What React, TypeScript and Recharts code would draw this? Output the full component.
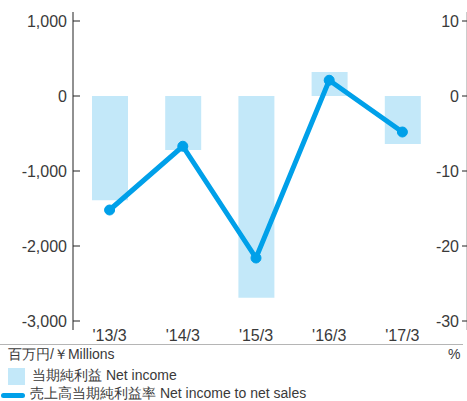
import React from 'react';
import { ComposedChart, Bar, Line, XAxis, YAxis } from 'recharts';

const years = ["'13/3", "'14/3", "'15/3", "'16/3", "'17/3"];
const netIncome = [-1390, -720, -2690, 320, -640];
const incomeRatio = [-15.2, -6.7, -21.6, 2.1, -4.8];
const leftTicks = [-3000, -2000, -1000, 0, 1000];
const rightTicks = [-30, -20, -10, 0, 10];

const data = years.map((year, i) => ({
  year,
  netIncome: netIncome[i],
  ratio: incomeRatio[i],
}));

const font = '"Liberation Sans", Arial, sans-serif';
const barColor = '#c3e8f9';
const lineColor = '#00a0e9';
const textColor = '#3a3a3a';

const LeftTick = (props: any) => {
  const { x, y, payload } = props;
  return (
    <g>
      <line x1={x + 6} x2={x + 13} y1={y} y2={y} stroke="#222" strokeWidth={1} />
      <text x={x} y={y} dy="0.36em" textAnchor="end" fill={textColor} fontSize={16} fontFamily={font}>
        {payload.value.toLocaleString('en-US')}
      </text>
    </g>
  );
};

export default function App() {
  return (
    <div style={{ position: 'absolute', left: 0, top: 0, width: 467, height: 401, fontFamily: font, color: textColor }}>
      <ComposedChart
        width={467}
        height={401}
        data={data}
        margin={{ top: 12, right: 0, bottom: 57, left: 0 }}
        barCategoryGap={0}
      >
        <XAxis
          dataKey="year"
          axisLine={false}
          tickLine={false}
          tickSize={0}
          tickMargin={0}
          height={14}
          padding={{ left: 0, right: 28 }}
          tick={{ fill: textColor, fontSize: 16, fontFamily: font }}
        />
        <YAxis
          yAxisId="left"
          width={73}
          domain={[-3120, 1120]}
          ticks={leftTicks}
          axisLine={{ stroke: '#222' }}
          tickLine={false}
          tickSize={0}
          tickMargin={6}
          tick={<LeftTick />}
          interval={0}
        />
        <YAxis
          yAxisId="right"
          orientation="right"
          mirror
          width={1}
          domain={[-31.2, 11.2]}
          ticks={rightTicks}
          axisLine={{ stroke: '#999' }}
          tickLine={{ stroke: '#222' }}
          tickSize={5}
          tickMargin={3}
          interval={0}
          tick={{ fill: textColor, fontSize: 16, fontFamily: font }}
        />
        <Bar yAxisId="left" dataKey="netIncome" fill={barColor} barSize={36} isAnimationActive={false} />
        <Line
          yAxisId="right"
          dataKey="ratio"
          stroke={lineColor}
          strokeWidth={5}
          dot={{ r: 5, fill: lineColor, stroke: lineColor, strokeWidth: 1 }}
          activeDot={false}
          isAnimationActive={false}
        />
      </ComposedChart>
      <div style={{ position: 'absolute', left: 0, top: 344, width: 463, height: 0, borderTop: '1.5px solid #b5b5b5' }} />
      <div style={{ position: 'absolute', left: 8, top: 346, fontSize: 14, whiteSpace: 'nowrap' }}>百万円/￥Millions</div>
      <div style={{ position: 'absolute', left: 448, top: 346, fontSize: 14 }}>%</div>
      <div style={{ position: 'absolute', left: 8, top: 368, width: 17, height: 17, background: barColor }} />
      <div style={{ position: 'absolute', left: 32, top: 367, fontSize: 14, whiteSpace: 'nowrap' }}>当期純利益 Net income</div>
      <div style={{ position: 'absolute', left: 1, top: 393, width: 24, height: 5, borderRadius: 3, background: lineColor }} />
      <div style={{ position: 'absolute', left: 30, top: 385, fontSize: 14, whiteSpace: 'nowrap' }}>売上高当期純利益率 Net income to net sales</div>
    </div>
  );
}
